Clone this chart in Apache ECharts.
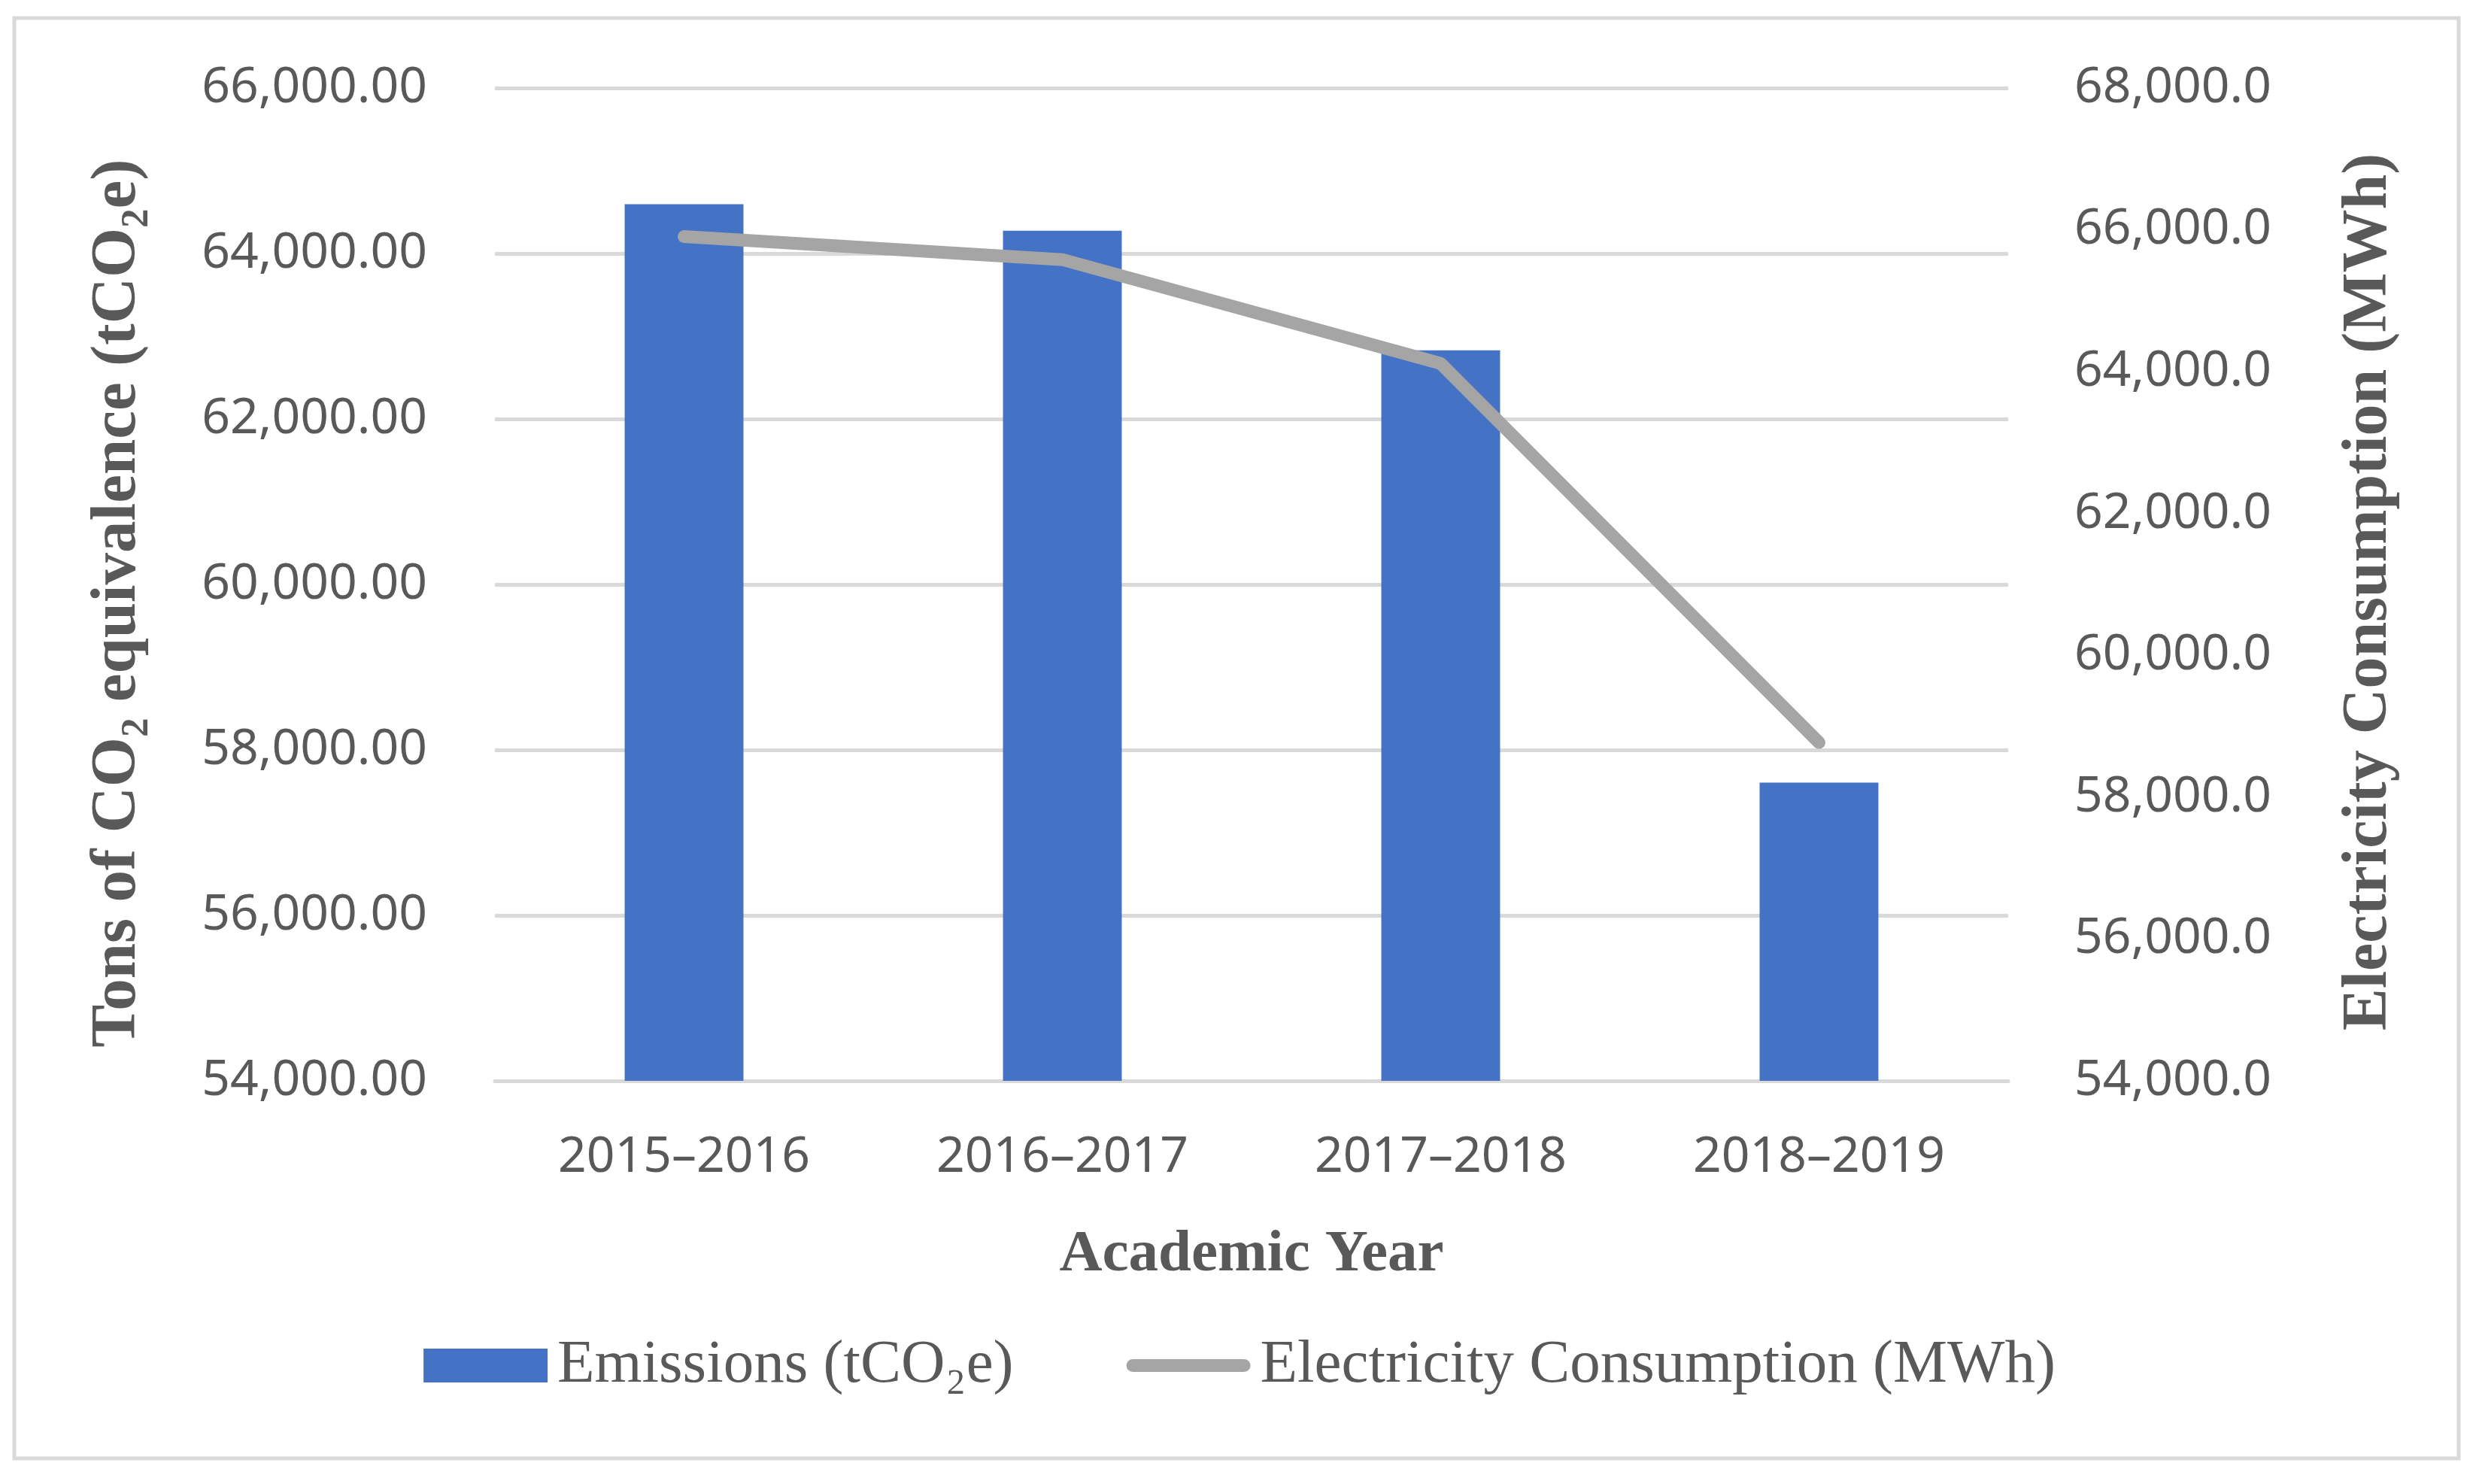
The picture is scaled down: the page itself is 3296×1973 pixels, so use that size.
<!DOCTYPE html>
<html>
<head>
<meta charset="utf-8">
<script src="https://cdn.jsdelivr.net/npm/echarts@6/dist/echarts.min.js"></script>
<style>
html,body{margin:0;padding:0;background:#fff;}
#chart{width:3296px;height:1973px;}
</style>
</head>
<body>
<div id="chart"></div>
<script>
// ---- data ----
const categories = ['2015–2016', '2016–2017', '2017–2018', '2018–2019'];
const emissions = [64595, 64275, 62830, 57605];          // tCO2e (left axis)
const electricity = [65905, 65580, 64115, 58770];        // MWh (right axis)
const leftAxisRange = [54000, 66000];
const rightAxisRange = [54000, 68000];
const tickStep = 2000;
const seriesNames = ['Emissions (tCO₂e)', 'Electricity Consumption (MWh)'];
const xAxisTitle = 'Academic Year';
const leftAxisTitle = 'Tons of CO₂ equivalence (tCO₂e)';
const rightAxisTitle = 'Electricity Consumption (MWh)';

const labelColor = '#595959';
const sansFont = '"Noto Sans", "Open Sans", sans-serif';
const serifFont = '"Liberation Serif", "DejaVu Serif", serif';
const lineLegendIcon = 'path://M8.5,0 L156.5,0 A8.5,8.5 0 0 1 156.5,17 L8.5,17 A8.5,8.5 0 0 1 8.5,0 Z';

function fmt(v, d) {
  return v.toLocaleString('en-US', {minimumFractionDigits: d, maximumFractionDigits: d});
}

const chart = echarts.init(document.getElementById('chart'), null, {renderer: 'canvas'});
chart.setOption({
  animation: false,
  backgroundColor: '#ffffff',
  graphic: [{
    type: 'rect', silent: true, z: -10,
    shape: {x: 19, y: 24, width: 3250, height: 1915},
    style: {fill: 'none', stroke: '#d9d9d9', lineWidth: 5}
  }],
  grid: {left: 658, right: 626, top: 117, bottom: 536, containLabel: false},
  legend: {
    data: [
      {name: seriesNames[0], icon: 'rect'},
      {name: seriesNames[1], icon: lineLegendIcon, itemStyle: {color: '#a5a5a5'}}
    ],
    left: 'center',
    top: 1770,
    itemWidth: 165,
    itemHeight: 45,
    itemGap: 150,
    symbolKeepAspect: true,
    textStyle: {color: labelColor, fontFamily: serifFont, fontSize: 81, padding: [0, 0, 0, 8]}
  },
  xAxis: {
    type: 'category',
    data: categories,
    name: xAxisTitle,
    nameLocation: 'middle',
    nameGap: 192,
    nameTextStyle: {color: labelColor, fontFamily: serifFont, fontSize: 79, fontWeight: 'bold'},
    axisLine: {show: true, lineStyle: {color: '#d9d9d9', width: 5}},
    axisTick: {show: false},
    axisLabel: {color: labelColor, fontFamily: sansFont, fontSize: 66, margin: 69}
  },
  yAxis: [{
    type: 'value',
    min: leftAxisRange[0], max: leftAxisRange[1], interval: tickStep,
    name: leftAxisTitle,
    nameLocation: 'middle',
    nameRotate: 90,
    nameGap: 458,
    nameTextStyle: {color: labelColor, fontFamily: serifFont, fontSize: 85, fontWeight: 'bold',
      padding: [0, 50, 0, 0]},
    axisLine: {show: false},
    axisTick: {show: false},
    splitLine: {show: true, lineStyle: {color: '#d9d9d9', width: 5}},
    axisLabel: {color: labelColor, fontFamily: sansFont, fontSize: 66, margin: 90,
      formatter: v => fmt(v, 2)}
  }, {
    type: 'value',
    position: 'right',
    min: rightAxisRange[0], max: rightAxisRange[1], interval: tickStep,
    name: rightAxisTitle,
    nameLocation: 'middle',
    nameRotate: 90,
    nameGap: 438,
    nameTextStyle: {color: labelColor, fontFamily: serifFont, fontSize: 84, fontWeight: 'bold',
      padding: [0, 20, 0, 0]},
    axisLine: {show: false},
    axisTick: {show: false},
    splitLine: {show: false},
    axisLabel: {color: labelColor, fontFamily: sansFont, fontSize: 66, margin: 88,
      formatter: v => fmt(v, 1)}
  }],
  series: [{
    name: seriesNames[0],
    type: 'bar',
    yAxisIndex: 0,
    data: emissions,
    barWidth: '31.4%',
    itemStyle: {color: '#4472c4'}
  }, {
    name: seriesNames[1],
    type: 'line',
    yAxisIndex: 1,
    data: electricity,
    symbol: 'none',
    showSymbol: false,
    lineStyle: {color: '#a5a5a5', width: 17, cap: 'round', join: 'bevel'},
    itemStyle: {color: '#a5a5a5'},
    z: 5
  }]
});
</script>
</body>
</html>
